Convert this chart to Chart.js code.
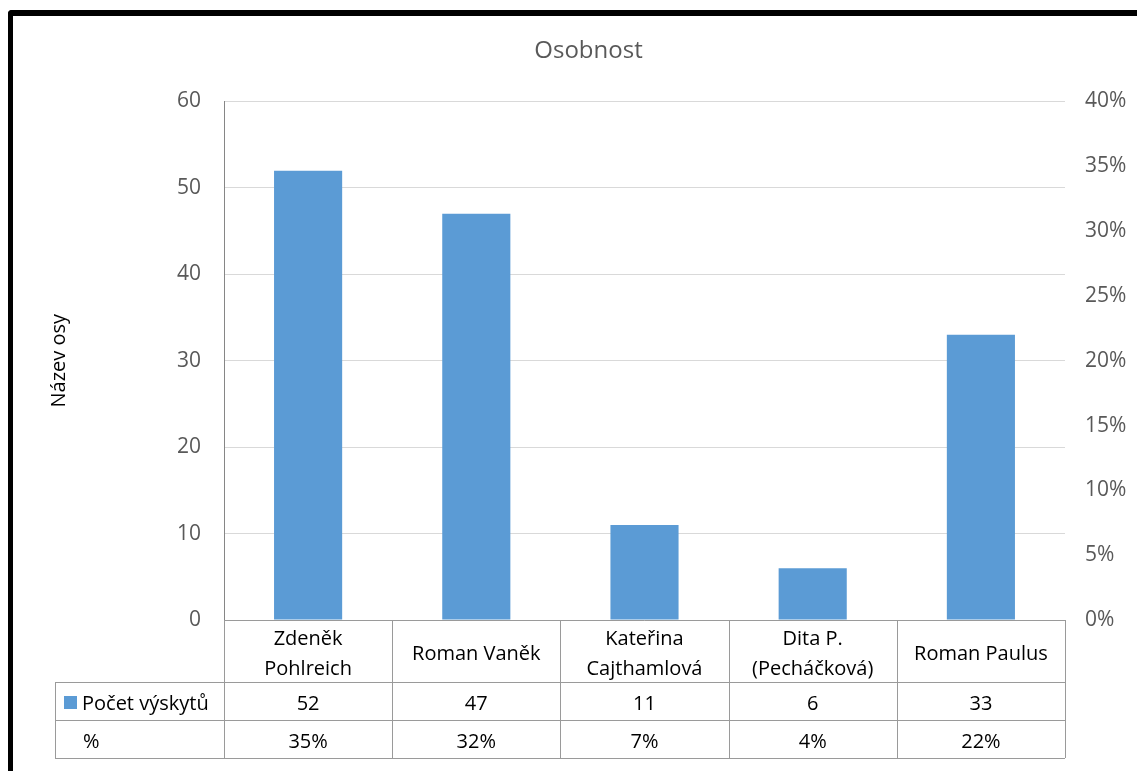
<!DOCTYPE html>
<html>
<head>
<meta charset="utf-8">
<script src="https://cdn.jsdelivr.net/npm/chart.js@4/dist/chart.umd.min.js"></script>
<style>
  html, body { margin: 0; padding: 0; background: #fff; overflow: hidden; }
  #wrap { position: relative; width: 1137px; height: 771px; }
  #frame {
    position: absolute; left: 8px; top: 10px; width: 1200px; height: 800px;
    border-top: 6px solid #000; border-left: 5px solid #000; border-top-left-radius: 4px;
    pointer-events: none;
  }
</style>
</head>
<body>
<div id="wrap">
  <canvas id="myChart" width="1137" height="771"></canvas>
  <div id="frame"></div>
</div>
<script>
// categories and values
const categories = [['Zdeněk', 'Pohlreich'], ['Roman Vaněk'], ['Kateřina', 'Cajthamlová'], ['Dita P.', '(Pecháčková)'], ['Roman Paulus']]
const counts = [52, 47, 11, 6, 33]
const shares = [0.35, 0.32, 0.07, 0.04, 0.22]
const seriesNames = ['Počet výskytů', '%']
const barColor = '#5b9bd5'
const fontFamily = '"Open Sans", "Noto Sans", sans-serif'

// data table under the plot, lined up with the x scale
const dataTable = {
    id: 'dataTable',
    afterDraw(chart) {
        const ctx = chart.ctx
        const a = chart.chartArea
        const x = chart.scales.x
        const catW = (a.right - a.left) / categories.length
        const headH = 62, rowH = 38, tableLeft = 55
        const top = a.bottom
        const r1 = top + headH, r2 = r1 + rowH, r3 = r2 + rowH

        ctx.save()
        ctx.strokeStyle = '#9a9a9a'
        ctx.lineWidth = 1
        ctx.beginPath()
        const hline = (y, x0, x1) => { ctx.moveTo(x0, Math.round(y) + 0.5); ctx.lineTo(x1, Math.round(y) + 0.5) }
        const vline = (xx, y0, y1) => { ctx.moveTo(Math.round(xx) + 0.5, y0); ctx.lineTo(Math.round(xx) + 0.5, y1) }
        hline(top, a.left, a.right)
        hline(r1, tableLeft, a.right)
        hline(r2, tableLeft, a.right)
        hline(r3, tableLeft, a.right)
        vline(tableLeft, r1, r3)
        for (let i = 0; i <= categories.length; i++) vline(a.left + i * catW, top, r3)
        ctx.stroke()

        ctx.fillStyle = '#000'
        ctx.font = '20px ' + fontFamily
        ctx.textAlign = 'center'
        ctx.textBaseline = 'middle'
        categories.forEach((lines, i) => {
            const cx = x.getPixelForValue(i)
            const lh = 30
            const y0 = top + headH / 2 + 3 - (lines.length - 1) * lh / 2
            lines.forEach((t, j) => ctx.fillText(t, cx, y0 + j * lh))
            ctx.fillText(String(counts[i]), cx, r1 + rowH / 2 + 3)
            ctx.fillText(Math.round(shares[i] * 100) + '%', cx, r2 + rowH / 2 + 3)
        })

        // row headers
        ctx.textAlign = 'left'
        ctx.fillStyle = barColor
        ctx.fillRect(tableLeft + 9, r1 + rowH / 2 - 5, 13, 13)
        ctx.fillStyle = '#000'
        ctx.fillText(seriesNames[0], tableLeft + 27, r1 + rowH / 2 + 3)
        ctx.fillText(seriesNames[1], tableLeft + 28, r2 + rowH / 2 + 3)
        ctx.restore()
    }
}

Chart.defaults.font.family = fontFamily

new Chart('myChart', {
    type: 'bar',
    data: {
        labels: categories.map(c => c.join(' ')),
        datasets: [
            { label: seriesNames[0], data: counts, backgroundColor: barColor, yAxisID: 'y', grouped: false },
            { label: seriesNames[1], data: shares, backgroundColor: 'rgba(0,0,0,0)', yAxisID: 'y2', grouped: false }
        ]
    },
    options: {
        responsive: false,
        animation: false,
        devicePixelRatio: 1,
        categoryPercentage: 1,
        barPercentage: 0.405,
        layout: { padding: { left: 40, right: 0, top: 0, bottom: 0 } },
        plugins: {
            legend: { display: false },
            tooltip: { enabled: false },
            title: {
                display: true,
                text: 'Osobnost',
                color: '#595959',
                font: { size: 24, weight: 'normal' },
                padding: { top: 37, bottom: 35.7 }
            }
        },
        scales: {
            x: {
                grid: { display: false },
                border: { display: false },
                ticks: { display: false },
                afterFit: s => { s.height = 151 }
            },
            y: {
                position: 'left',
                min: 0, max: 60,
                ticks: { stepSize: 10, color: '#595959', padding: 23, font: { size: 21 } },
                grid: { color: '#d9d9d9', drawTicks: false },
                border: { color: '#868686' },
                title: { display: true, text: 'Název osy', color: '#000', font: { size: 20 }, padding: { top: 7, bottom: 0 } },
                afterFit: s => { s.width = 184 }
            },
            y2: {
                position: 'right',
                min: 0, max: 0.4,
                ticks: {
                    stepSize: 0.05, color: '#595959', padding: 20, font: { size: 21 },
                    callback: v => Math.round(v * 100) + '%'
                },
                grid: { display: false, drawTicks: false },
                border: { display: false },
                afterFit: s => { s.width = 72 }
            }
        }
    },
    plugins: [dataTable]
})
</script>
</body>
</html>
